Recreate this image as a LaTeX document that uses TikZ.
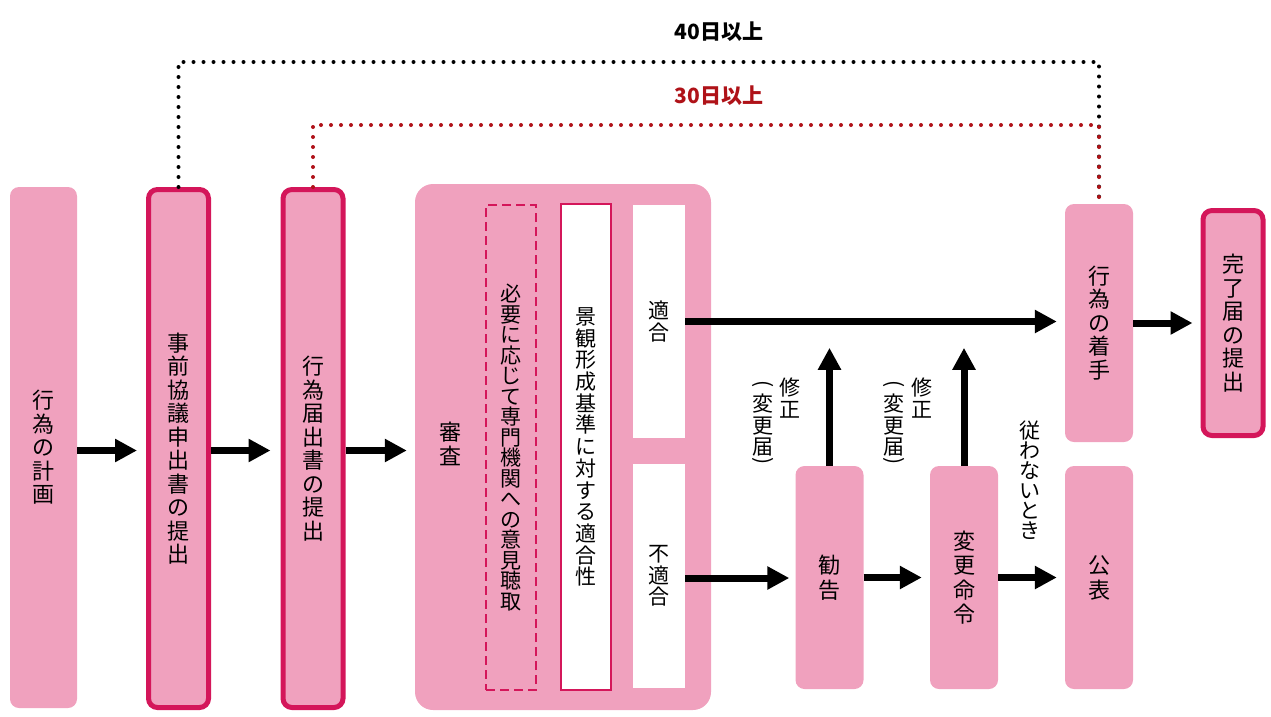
\documentclass[tikz,border=0pt]{standalone}
\usepackage{fontspec}
\setmainfont{Noto Sans CJK JP}
\usepackage{xcolor}
\usepackage{graphicx}
\usetikzlibrary{arrows.meta}

\definecolor{boxpink}{RGB}{240,161,190}
\definecolor{edgered}{RGB}{212,22,90}
\definecolor{dotred}{RGB}{175,18,24}

% vertical (tate) text: one character per line
\ExplSyntaxOn
\NewDocumentCommand \tate { m }
  {
    \seq_clear:N \l_tmpa_seq
    \tl_map_inline:nn {#1} { \seq_put_right:Nn \l_tmpa_seq {##1} }
    \seq_use:Nn \l_tmpa_seq { \\ }
  }
\ExplSyntaxOff
\newcommand\vparen[1]{\rotatebox[origin=c]{-90}{#1}}

\tikzset{
  box/.style={fill=boxpink, rounded corners=9pt, minimum width=67pt,
    inner sep=0pt, align=center, font=\fontsize{22}{23.5}\selectfont},
  redbox/.style={box, draw=edgered, line width=5pt, minimum width=60pt},
  whitebox/.style={fill=white, inner sep=0pt, minimum width=52pt,
    align=center, font=\fontsize{21}{21.7}\selectfont},
  lbl/.style={inner sep=0pt, align=center, font=\fontsize{21}{21.5}\selectfont},
  arr/.style={line width=7pt, -{Triangle[length=22pt,width=22pt]}},
  dots/.style={line width=4pt, line cap=round, dash pattern=on 0pt off 10pt},
}

\begin{document}
\begin{tikzpicture}[x=1pt, y=-1pt]
  \useasboundingbox (0,0) rectangle (1271,716);

  % main flow
  \node[box, minimum height=521pt] (plan) at (43.5,447.5) {\tate{行為の計画}};
  \node[redbox, minimum height=518pt] (prior) at (178.5,448.5) {\tate{事前協議申出書の提出}};
  \node[redbox, minimum height=518pt] (notice) at (313,448.5) {\tate{行為届出書の提出}};

  % review block
  \node[box, rounded corners=18pt, minimum width=296pt, minimum height=526pt] (review) at (563,447) {};
  \node[lbl, font=\fontsize{22}{23.5}\selectfont] (reviewtxt) at (450,444) {\tate{審査}};
  \node[lbl, draw=edgered, line width=2.5pt, dash pattern=on 9pt off 5pt,
    minimum width=50pt, minimum height=485pt, font=\fontsize{21}{20.5}\selectfont] (expert) at (511,447.5)
    {\tate{必要に応じて専門機関への意見聴取}};
  \node[whitebox, draw=edgered, line width=2.5pt, minimum width=50pt, minimum height=486pt] (standard) at (586,447)
    {\tate{景観形成基準に対する適合性}};
  \node[whitebox, minimum height=233pt] (fit) at (659,321.5) {\tate{適合}};
  \node[whitebox, minimum height=224pt] (unfit) at (659,576) {\tate{不適合}};

  % follow-up
  \node[box, minimum width=68pt, minimum height=223pt, font=\fontsize{22}{25}\selectfont] (advice) at (829.5,577.5) {\tate{勧告}};
  \node[box, minimum width=68pt, minimum height=223pt, font=\fontsize{22}{24.5}\selectfont] (order) at (964,577.5) {\tate{変更命令}};
  \node[box, minimum width=68pt, minimum height=223pt, font=\fontsize{22}{25}\selectfont] (publish) at (1099,577.5) {\tate{公表}};
  \node[box, minimum width=68pt, minimum height=238pt] (start) at (1099,323) {\tate{行為の着手}};
  \node[redbox, minimum height=225pt] (complete) at (1233,323) {\tate{完了届の提出}};

  % labels
  \node[lbl, anchor=north] (fix1) at (790,378) {\tate{修正}};
  \node[lbl, anchor=north] (paren1) at (763,380) {\vparen{(}\\変\\更\\届\\[-9pt]\vparen{)}};
  \node[lbl, anchor=north] (fix2) at (922,378) {\tate{修正}};
  \node[lbl, anchor=north] (paren2) at (894,380) {\vparen{(}\\変\\更\\届\\[-9pt]\vparen{)}};
  \node[lbl, anchor=north, font=\fontsize{21}{20}\selectfont] (refuse) at (1030,421) {\tate{従わないとき}};

  \node[font=\bfseries\fontsize{21}{24}\selectfont] (d40) at (719,32) {40日以上};
  \node[font=\bfseries\fontsize{21}{24}\selectfont, text=dotred] (d30) at (719,96) {30日以上};

  % arrows
  \draw[arr, shorten >=9pt] ([yshift=-3pt]plan.east) -- ([yshift=-3pt]plan.east -| prior.west);
  \draw[arr, shorten >=10pt] ([yshift=-2pt]prior.east) -- ([yshift=-2pt]prior.east -| notice.west);
  \draw[arr, shorten >=8pt] ([yshift=-2pt]notice.east) -- ([yshift=-2pt]notice.east -| review.west);
  \draw[arr, shorten >=8pt] (fit.east) -- (fit.east -| start.west);
  \draw[arr, shorten >=8pt] (start.east) -- (start.east -| complete.west);
  \draw[arr, shorten >=6pt] ([yshift=-2pt]unfit.east) -- ([yshift=-2pt]unfit.east -| advice.west);
  \draw[arr, shorten >=8pt] (advice.east) -- (advice.east -| order.west);
  \draw[arr, shorten >=8pt] (order.east) -- (order.east -| publish.west);
  \draw[arr] (advice.north) -- ++(0,-118);
  \draw[arr] (order.north) -- ++(0,-118);

  % day counts
  \draw[dots] (prior.north) -- ++(0,-125) -| (start.north);
  \draw[dots, dotred] (notice.north) -- ++(0,-62) -| (start.north);
\end{tikzpicture}
\end{document}
